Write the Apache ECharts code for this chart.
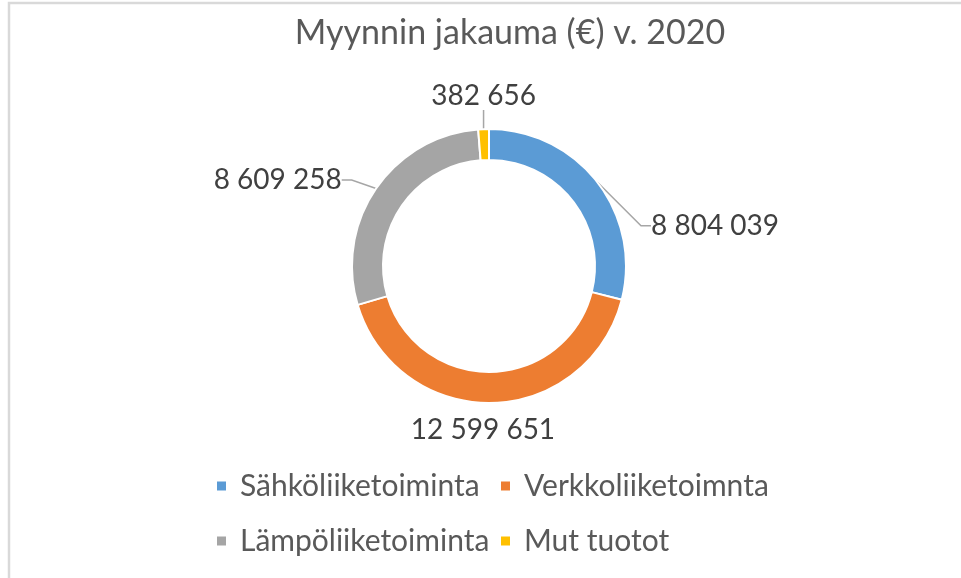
<!DOCTYPE html>
<html>
<head>
<meta charset="utf-8">
<script src="https://cdn.jsdelivr.net/npm/echarts@6/dist/echarts.min.js"></script>
<style>
html,body{margin:0;padding:0;background:#fff;}
#chart{width:961px;height:578px;}
</style>
</head>
<body>
<div id="chart"></div>
<script>
const titleText = 'Myynnin jakauma (€) v. 2020';
const categories = ['Sähköliiketoiminta', 'Verkkoliiketoimnta', 'Lämpöliiketoiminta', 'Mut tuotot'];
const values = [8804039, 12599651, 8609258, 382656];
const colors = ['#5B9BD5', '#ED7D31', '#A5A5A5', '#FFC000'];

function fmt(v) {
  return String(v).replace(/\B(?=(\d{3})+(?!\d))/g, ' ');
}

// label nudges relative to the library's default outside placement
const labelOffsets = [
  {dx: 27, dy: 53, align: 'left'},
  {dx: -86, dy: 17, align: 'center'},
  {dx: -7, dy: 0, align: 'right'},
  {dx: 58, dy: -15, align: 'center'}
];

const chart = echarts.init(document.getElementById('chart'), null, {renderer: 'canvas'});
chart.setOption({
  animation: false,
  backgroundColor: '#fff',
  title: {
    text: titleText,
    left: 505,
    textAlign: 'center',
    top: 11,
    textStyle: {fontFamily: 'Lato', fontSize: 34, fontWeight: 'normal', color: '#595959'}
  },
  graphic: [{
    type: 'rect',
    shape: {x: 9, y: 3, width: 1000, height: 1000},
    style: {fill: 'none', stroke: '#d9d9d9', lineWidth: 2.5},
    silent: true
  }],
  legend: {
    data: categories,
    left: 210,
    top: 458,
    width: 600,
    orient: 'horizontal',
    itemWidth: 11,
    itemHeight: 11,
    itemGap: 9,
    icon: 'rect',
    textStyle: {fontFamily: 'Lato', fontSize: 30, color: '#595959', width: 250, lineHeight: 46, padding: [0, 0, 0, 8]}
  },
  series: [{
    type: 'pie',
    center: [489, 266],
    radius: [106, 137],
    startAngle: 90,
    clockwise: true,
    avoidLabelOverlap: false,
    itemStyle: {borderColor: '#fff', borderWidth: 2},
    label: {
      show: true,
      position: 'outside',
      formatter: p => fmt(p.value),
      fontFamily: 'Lato',
      fontSize: 28,
      color: '#404040'
    },
    labelLine: {show: true, length: 15, length2: 10, minTurnAngle: 90, lineStyle: {color: '#A6A6A6', width: 1.5}},
    labelLayout: function (params) {
      const r = params.labelRect;
      const o = labelOffsets[params.dataIndex];
      let x;
      if (o.align === 'center') x = r.x + r.width / 2;
      else if (o.align === 'right') x = r.x + r.width;
      else x = r.x;
      return {
        x: x + o.dx,
        y: r.y + r.height / 2 + o.dy,
        align: o.align,
        verticalAlign: 'middle'
      };
    },
    data: categories.map((c, i) => ({
      name: c,
      value: values[i],
      itemStyle: {color: colors[i]},
      labelLine: i === 1 ? {show: false, length: 10, length2: 0} : (i === 3 ? {length: 18, length2: 0} : undefined)
    }))
  }]
});
</script>
</body>
</html>
